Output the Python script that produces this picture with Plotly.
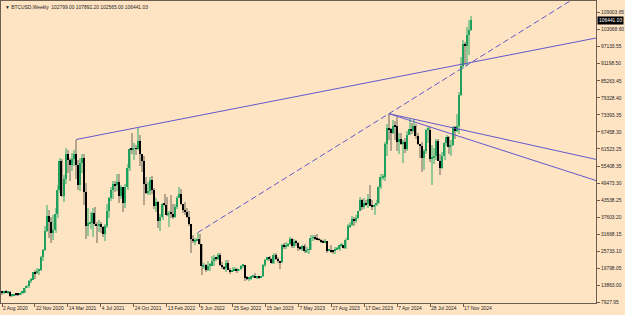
import pandas as pd
import plotly.graph_objects as go

# ---------------- data (BTCUSD weekly, first week = 2 Aug 2020) ----------------
first_week = "2020-08-02"

open_ = [
    11800, 11600, 11800, 11650, 11700, 10300, 10300, 10950, 10700, 10650,
    11350, 11400, 13050, 13800, 15500, 15950, 18650, 18200, 19150, 19250,
    23700, 26300, 33000, 38200, 36000, 32300, 33100, 39000, 47200, 57400,
    45200, 50900, 59900, 57600, 55800, 57900, 59900, 56000, 49000, 56600,
    58200, 46400, 34700, 35700, 35800, 39100, 35500, 34700, 35300, 34200,
    31700, 34800, 39900, 44500, 47100, 49300, 48900, 49900, 45200, 48300,
    42800, 48200, 54900, 61500, 61300, 61800, 61500, 64400, 59700, 57200,
    49400, 46200, 46700, 50800, 47300, 41800, 43100, 36300, 37900, 42200,
    42100, 38400, 39100, 38900, 37800, 41300, 44500, 45800, 42200, 40400,
    39400, 37700, 35500, 30100, 29400, 29400, 30100, 28400, 20600, 21000,
    19300, 20800, 20800, 22600, 23600, 23200, 24400, 21100, 20200, 19900,
    21800, 19400, 18900, 19300, 19400, 19200, 19600, 20800, 20900, 16600,
    16300, 16500, 17100, 17100, 16800, 16800, 16600, 17100, 20900, 22700,
    23800, 23000, 21800, 24600, 23200, 22400, 22000, 28000, 27500, 28000,
    28300, 30300, 27600, 29200, 28900, 26900, 26700, 27700, 25800, 26300,
    26300, 30500, 30600, 30200, 30100, 29800, 29200, 29000, 29300, 26000,
    26000, 25900, 25800, 26500, 26500, 27900, 27900, 26900, 29900, 34500,
    35000, 37100, 36500, 37500, 39900, 43800, 41400, 42600, 42300, 43900,
    41700, 41600, 42000, 42600, 48300, 51600, 51700, 63100, 68900, 68400,
    67200, 69600, 69400, 63900, 64900, 63400, 64000, 61500, 66300, 68500,
    67700, 69600, 66200, 63200, 62700, 58200, 60800, 68200, 68200, 58100,
    58700, 58900, 64200, 57300, 54800, 59100, 63600, 65800, 62100, 62800,
    69000, 67900, 69500, 80400, 90500, 98000, 97300, 101300, 102799.00,
]
high = [
    12100, 12100, 12470, 11800, 12050, 10600, 11100, 10950, 10950, 11500,
    11700, 13200, 14100, 15900, 16500, 18800, 19400, 19900, 19400, 24200,
    26800, 34800, 41900, 40100, 37800, 38600, 40900, 49000, 58300, 58000,
    52600, 61700, 61200, 58400, 60100, 61200, 64800, 57500, 58400, 59600,
    59600, 49800, 40800, 39500, 40900, 41300, 36000, 36600, 35900, 34600,
    35200, 42300, 44800, 48200, 50500, 50500, 52900, 52900, 48800, 48300,
    49200, 56100, 62000, 67000, 63700, 63000, 69000, 66300, 59900, 59200,
    51900, 50000, 51900, 52000, 47900, 44500, 43500, 38900, 42600, 45800,
    44600, 40000, 45400, 42400, 42300, 45000, 48200, 47400, 42400, 42900,
    40800, 40000, 35500, 31400, 30500, 32300, 31700, 28400, 21900, 21500,
    22500, 21600, 24200, 24600, 23600, 25100, 25200, 22000, 20600, 22700,
    22800, 19900, 20400, 20500, 19900, 19700, 21000, 21500, 21000, 17200,
    16800, 17300, 17400, 18400, 17000, 16900, 17200, 21300, 23300, 23800,
    24200, 23400, 25200, 25100, 23900, 22600, 28400, 28900, 29200, 28800,
    31000, 30500, 30000, 29800, 29100, 27600, 28000, 28400, 27300, 26800,
    31400, 31400, 31500, 31800, 30400, 30000, 29900, 30200, 29600, 26600,
    28100, 26400, 27400, 27500, 28000, 28600, 28000, 30500, 35200, 35900,
    38000, 37900, 38400, 40000, 44700, 44000, 44400, 43800, 45900, 49000,
    43600, 42200, 43800, 48500, 52800, 52900, 64000, 70100, 73800, 68900,
    71600, 71300, 72800, 66900, 67200, 64700, 65500, 67700, 71900, 70600,
    71900, 70200, 66900, 63400, 63800, 61500, 68400, 69400, 69200, 62800,
    61800, 65000, 64900, 59800, 60600, 64100, 66500, 66000, 64500, 69400,
    69500, 73600, 81500, 93400, 99600, 98700, 103900, 106500, 107892.20,
]
low = [
    10600, 11100, 11500, 11150, 9900, 9900, 10200, 10150, 10400, 10500,
    11200, 11300, 12900, 13200, 14800, 15800, 16200, 18000, 17600, 19000,
    22400, 26000, 32400, 30400, 28900, 29900, 32200, 37400, 46000, 44900,
    43000, 49300, 53200, 50400, 54000, 55400, 51000, 47100, 47000, 53000,
    42100, 30000, 31200, 33500, 31000, 34800, 28800, 32700, 32100, 31000,
    29300, 34000, 37300, 43300, 43900, 46400, 46800, 42800, 44000, 39600,
    40800, 47100, 53900, 59600, 57800, 59400, 61300, 55600, 53500, 42000,
    45700, 45500, 45600, 45700, 40600, 39600, 34000, 32900, 36600, 41700,
    38000, 34300, 37400, 37200, 37600, 40500, 44400, 42100, 39200, 38600,
    37600, 34700, 25400, 28700, 28000, 29300, 28000, 17600, 19600, 18700,
    19000, 18900, 20700, 20700, 22400, 22700, 20800, 19800, 19500, 18600,
    19300, 18100, 18500, 19200, 18200, 18900, 19200, 20100, 15600, 15800,
    15500, 16000, 16700, 16500, 16400, 16300, 16500, 17000, 20400, 22300,
    22600, 21400, 21400, 22800, 21900, 19600, 21800, 26600, 26600, 27200,
    28200, 27100, 27000, 27700, 25800, 26300, 26000, 25400, 25400, 24800,
    26200, 29500, 29800, 29900, 29500, 28900, 28600, 28800, 25200, 25800,
    25400, 24900, 24900, 26300, 26000, 27200, 26500, 26800, 29700, 33900,
    34600, 34800, 35600, 37200, 39900, 40200, 40500, 41500, 40800, 41500,
    40300, 38500, 41800, 42300, 47700, 50600, 50500, 59000, 64600, 60800,
    66800, 64500, 60700, 59700, 62800, 56500, 60200, 60800, 66300, 66700,
    67500, 65100, 63000, 58400, 53500, 54300, 59800, 63500, 57100, 49000,
    56100, 57800, 57200, 52600, 54600, 57500, 62700, 59800, 58900, 62400,
    65100, 67500, 66800, 80000, 89300, 90800, 90500, 94200, 102565.00,
]
close = [
    11600, 11800, 11650, 11700, 10300, 10300, 10950, 10700, 10650, 11350,
    11400, 13050, 13800, 15500, 15950, 18650, 18200, 19150, 19250, 23700,
    26300, 33000, 38200, 36000, 32300, 33100, 39000, 47200, 57400, 45200,
    50900, 59900, 57600, 55800, 57900, 59900, 56000, 49000, 56600, 58200,
    46400, 34700, 35700, 35800, 39100, 35500, 34700, 35300, 34200, 31700,
    34800, 39900, 44500, 47100, 49300, 48900, 49900, 45200, 48300, 42800,
    48200, 54900, 61500, 61300, 61800, 61500, 64400, 59700, 57200, 49400,
    46200, 46700, 50800, 47300, 41800, 43100, 36300, 37900, 42200, 42100,
    38400, 39100, 38900, 37800, 41300, 44500, 45800, 42200, 40400, 39400,
    37700, 35500, 30100, 29400, 29400, 30100, 28400, 20600, 21000, 19300,
    20800, 20800, 22600, 23600, 23200, 24400, 21100, 20200, 19900, 21800,
    19400, 18900, 19300, 19400, 19200, 19600, 20800, 20900, 16600, 16300,
    16500, 17100, 17100, 16800, 16800, 16600, 17100, 20900, 22700, 23800,
    23000, 21800, 24600, 23200, 22400, 22000, 28000, 27500, 28000, 28300,
    30300, 27600, 29200, 28900, 26900, 26700, 27700, 25800, 26300, 26300,
    30500, 30600, 30200, 30100, 29800, 29200, 29000, 29300, 26000, 26000,
    25900, 25800, 26500, 26500, 27900, 27900, 26900, 29900, 34500, 35000,
    37100, 36500, 37500, 39900, 43800, 41400, 42600, 42300, 43900, 41700,
    41600, 42000, 42600, 48300, 51600, 51700, 63100, 68900, 68400, 67200,
    69600, 69400, 63900, 64900, 63400, 64000, 61500, 66300, 68500, 67700,
    69600, 66200, 63200, 62700, 58200, 60800, 68200, 68200, 58100, 58700,
    58900, 64200, 57300, 54800, 59100, 63600, 65800, 62100, 62800, 69000,
    67900, 69500, 80400, 90500, 98000, 97300, 101300, 102799, 106441.03,
]

# date-axis tick labels (every 16 weeks)
x_tick_dates = ["2020-08-02", "2020-11-22", "2021-03-14", "2021-07-04", "2021-10-24",
                "2022-02-13", "2022-06-05", "2022-09-25", "2023-01-15", "2023-05-07",
                "2023-08-27", "2023-12-17", "2024-04-07", "2024-07-28", "2024-11-17"]
x_tick_labels = ["2 Aug 2020", "22 Nov 2020", "14 Mar 2021", "4 Jul 2021", "24 Oct 2021",
                 "13 Feb 2022", "5 Jun 2022", "25 Sep 2022", "15 Jan 2023", "7 May 2023",
                 "27 Aug 2023", "17 Dec 2023", "7 Apr 2024", "28 Jul 2024", "17 Nov 2024"]

# price-axis labels
y_tick_labels = ["7927.95", "13863.00", "19798.05", "25733.10", "31668.15", "37603.20",
                 "43538.25", "49473.30", "55408.35", "61523.25", "67458.30", "73393.35",
                 "79328.40", "85263.45", "91198.50", "97133.55", "103068.60", "109003.65"]

# trend lines: (date A, price A, date B, price B, dashed?)
trend_lines = [
    ("2021-04-11", 64800, "2021-11-07", 69000, False),
    ("2022-05-29", 32300, "2024-03-10", 73800, True),
    ("2024-03-10", 73800, "2024-06-02", 71900, False),
    ("2024-03-10", 73800, "2024-07-21", 69400, False),
]

symbol_text = "BTCUSD,Weekly"
last_price_text = "106441.03"

# ---------------- styling ----------------
BG = "#FFE4C4"
FRAME = "#6E5E50"
TEXT = "#1E1E1E"
BULL_BODY = "#20A05C"
BEAR_BODY = "#000000"
BULL_WICK = "#94C894"
BEAR_WICK = "#B4A68E"
LINE_COL = "#6159C9"
FONT = "Liberation Sans"
FS = 4.9

n = len(close)
weeks = pd.date_range(first_week, periods=n, freq="7D")
pos = {d.strftime("%Y-%m-%d"): i for i, d in enumerate(weeks)}
xs = list(range(n))

x_min, x_max = -0.49, 288.6
y_min, y_max = 7824.0, 113074.0

fig = go.Figure()

# wicks
fig.add_trace(go.Bar(
    x=xs, base=low, y=[h - l for h, l in zip(high, low)], width=0.5,
    marker=dict(color=[BULL_WICK if c >= o else BEAR_WICK for o, c in zip(open_, close)],
                line=dict(width=0)),
    hoverinfo="skip"))

# bodies
min_h = 320
fig.add_trace(go.Bar(
    x=xs, base=[min(o, c) for o, c in zip(open_, close)],
    y=[max(abs(c - o), min_h) for o, c in zip(open_, close)], width=0.72,
    marker=dict(color=[BULL_BODY if c >= o else BEAR_BODY for o, c in zip(open_, close)],
                line=dict(width=0)),
    hoverinfo="skip"))

# trend lines (rays to the right edge)
for da, pa, db, pb, dashed in trend_lines:
    ia, ib = pos[da], pos[db]
    slope = (pb - pa) / (ib - ia)
    xe = x_max
    ye = pa + slope * (xe - ia)
    if ye > y_max:
        xe = ia + (y_max - pa) / slope
        ye = y_max
    fig.add_trace(go.Scatter(
        x=[ia, xe], y=[pa, ye], mode="lines",
        line=dict(color=LINE_COL, width=1, dash="6px,3px" if dashed else "solid"),
        hoverinfo="skip", cliponaxis=True))

fig.update_layout(
    width=625, height=315,
    margin=dict(l=1, r=29, t=1, b=12, pad=0),
    paper_bgcolor=BG, plot_bgcolor=BG,
    showlegend=False, barmode="overlay", bargap=0,
    font=dict(family=FONT, size=FS, color=TEXT),
)
fig.update_xaxes(
    range=[x_min, x_max], showgrid=False, zeroline=False,
    showline=True, linecolor=FRAME, linewidth=1, mirror=True,
    ticks="outside", ticklen=3, tickcolor=FRAME, tickwidth=1,
    tickvals=[pos[d] for d in x_tick_dates], ticktext=x_tick_labels,
    ticklabelposition="outside right", tickangle=0,
    tickfont=dict(family=FONT, size=FS, color=TEXT),
)
fig.update_yaxes(
    range=[y_min, y_max], side="right", showgrid=False, zeroline=False,
    showline=True, linecolor=FRAME, linewidth=1, mirror=True,
    ticks="outside", ticklen=3, tickcolor=FRAME, tickwidth=1,
    tickvals=[float(v) for v in y_tick_labels], ticktext=y_tick_labels,
    tickfont=dict(family=FONT, size=FS, color=TEXT),
)

# header
fig.add_annotation(
    xref="paper", yref="paper", x=0, y=1, xanchor="left", yanchor="top",
    xshift=2, yshift=-2, showarrow=False,
    text="▼ " + symbol_text + "  " + " ".join(
        f"{v:.2f}" for v in (open_[-1], high[-1], low[-1], close[-1])),
    font=dict(family=FONT, size=FS, color=TEXT))

# current price box
fig.add_annotation(
    xref="paper", yref="y", x=1, y=close[-1], xanchor="left", yanchor="middle",
    xshift=1, showarrow=False, text=last_price_text,
    bgcolor="#000000", borderpad=1,
    font=dict(family=FONT, size=FS, color="#FFFFFF"))

fig.write_html("out.html", config={"displayModeBar": False})
